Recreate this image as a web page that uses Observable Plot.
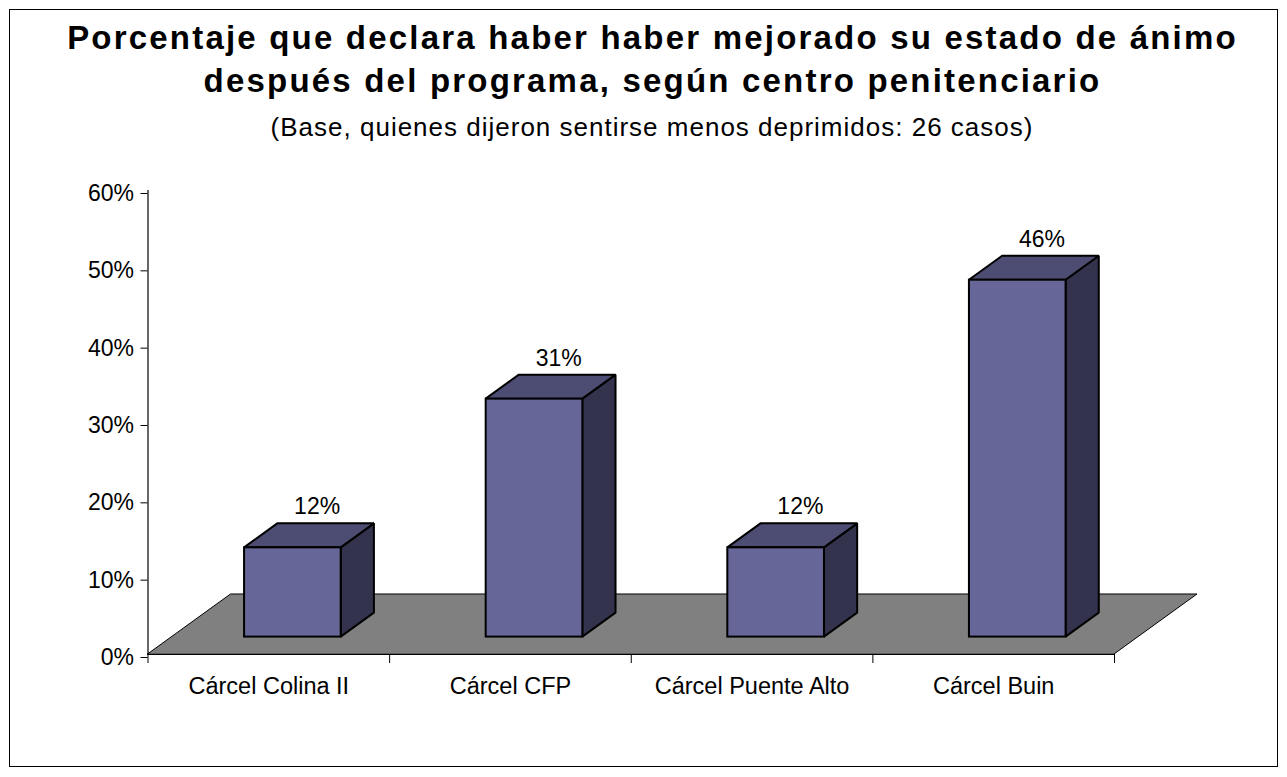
<!DOCTYPE html>
<html>
<head>
<meta charset="utf-8">
<script src="https://cdn.jsdelivr.net/npm/d3@7"></script>
<script src="https://cdn.jsdelivr.net/npm/@observablehq/plot@0.6"></script>
<style>
  html, body { margin: 0; padding: 0; background: #fff; }
  body { width: 1287px; height: 777px; position: relative; overflow: hidden; font-family: "Liberation Sans", Arial, sans-serif; color: #000; }
  #frame { position: absolute; left: 9px; top: 9px; width: 1269px; height: 758px; border: 1px solid #000; box-sizing: border-box; }
  #title { position: absolute; left: 0; top: 16px; width: 1287px; box-sizing: border-box; padding-left: 18px; text-align: center;
           font-weight: bold; font-size: 33px; line-height: 43px; letter-spacing: 2.2px; white-space: nowrap; }
  #subtitle { position: absolute; left: 0; top: 112px; width: 1287px; box-sizing: border-box; padding-left: 17px; text-align: center;
           font-size: 26px; line-height: 30px; letter-spacing: 1px; white-space: nowrap; }
  #chart { position: absolute; left: 10px; top: 150px; }
</style>
</head>
<body>
<div id="frame"></div>
<div id="title">Porcentaje que declara haber haber mejorado su estado de ánimo<br>después del programa, según centro penitenciario</div>
<div id="subtitle">(Base, quienes dijeron sentirse menos deprimidos: 26 casos)</div>
<div id="chart"></div>
<script>
// ---- data ----
const categories = ["Cárcel Colina II", "Cárcel CFP", "Cárcel Puente Alto", "Cárcel Buin"];
const values = [0.1154, 0.3077, 0.1154, 0.4615];
const yTicks = [0, 0.1, 0.2, 0.3, 0.4, 0.5, 0.6];

// ---- 3D look (in data units of the x/y scales) ----
const FLOOR_DX = 0.3435, FLOOR_DY = 0.0776; // depth of the floor
const BAR_W = 0.4;   // bar width (fraction of a category)
const F0 = 0.29;     // depth fraction of the bar front face
const DEPTH = 0.4;   // bar depth as fraction of floor depth
const N = categories.length;

const fronts = categories.map((c, i) => {
  const a = i + 0.5 - BAR_W / 2, b = i + 0.5 + BAR_W / 2;
  return {i, c, v: values[i], x1: a + F0 * FLOOR_DX, x2: b + F0 * FLOOR_DX, y1: F0 * FLOOR_DY, y2: values[i] + F0 * FLOOR_DY};
});
const sides = [], tops = [];
categories.forEach((c, i) => {
  const a = i + 0.5 - BAR_W / 2, b = i + 0.5 + BAR_W / 2, v = values[i];
  for (const f of [F0, F0 + DEPTH]) {
    sides.push({i, x: b + f * FLOOR_DX, y1: f * FLOOR_DY, y2: v + f * FLOOR_DY});
    tops.push({i, y: v + f * FLOOR_DY, x1: a + f * FLOOR_DX, x2: b + f * FLOOR_DX});
  }
});
const floor = [
  {y: 0, x1: 0, x2: N},
  {y: FLOOR_DY, x1: FLOOR_DX, x2: N + FLOOR_DX}
];
const labels = categories.map((c, i) => ({
  i, v: values[i],
  x: i + 0.5 + (F0 + 0.73 * DEPTH) * FLOOR_DX,
  y: values[i] + (F0 + DEPTH) * FLOOR_DY
}));

const fmt = d3.format(".0%");

const chart = Plot.plot({
  width: 1267,
  height: 616,
  marginLeft: 137.5,
  marginRight: 163,
  marginTop: 40,
  marginBottom: 112,
  style: {background: "transparent", overflow: "visible", fontFamily: "'Liberation Sans', Arial, sans-serif", color: "#000"},
  x: {domain: [0, N]},
  y: {domain: [0, 0.6]},
  marks: [
    Plot.areaX(floor, {y: "y", x1: "x1", x2: "x2", fill: "#808080", stroke: "#000", strokeWidth: 1}),
    Plot.ruleY([0], {x1: 0, x2: N, stroke: "#000", strokeWidth: 1.2}),
    Plot.ruleX([0], {y1: 0, y2: 0.6, stroke: "#000", strokeWidth: 1.2}),
    Plot.axisY({ticks: yTicks, tickFormat: fmt, tickSize: 7, tickPadding: 7, fontSize: 23, dy: 3, label: null}),
    Plot.axisX({ticks: d3.range(N + 1), tickSize: 9, tickFormat: () => "", label: null}),
    Plot.axisX({ticks: categories.map((_, i) => i + 0.5), tickFormat: d => categories[Math.floor(d)], tickSize: 0, tickPadding: 23, fontSize: 23.5, label: null}),
    Plot.areaY(sides, {x: "x", y1: "y1", y2: "y2", z: "i", fill: "#33334d", stroke: "#000", strokeWidth: 2, strokeLinejoin: "miter"}),
    Plot.areaX(tops, {y: "y", x1: "x1", x2: "x2", z: "i", fill: "#4d4d73", stroke: "#000", strokeWidth: 2, strokeLinejoin: "miter"}),
    Plot.rect(fronts, {x1: "x1", x2: "x2", y1: "y1", y2: "y2", fill: "#666699", stroke: "#000", strokeWidth: 2}),
    Plot.text(labels, {x: "x", y: "y", text: d => fmt(d.v), fontSize: 23, lineAnchor: "middle", dy: -17, fill: "#000"})
  ]
});
document.getElementById("chart").appendChild(chart);
</script>
</body>
</html>
